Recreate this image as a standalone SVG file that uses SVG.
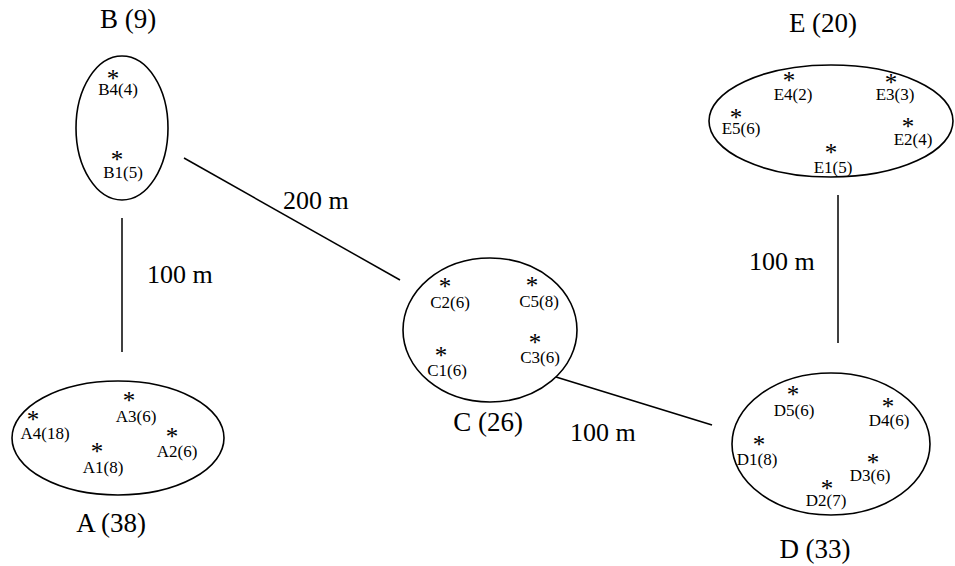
<svg xmlns="http://www.w3.org/2000/svg" width="955" height="566" viewBox="0 0 955 566">
  <style>
    text { font-family: "Liberation Serif", "Times New Roman", serif; fill: #000; }
    .ring { fill: none; stroke: #000; stroke-width: 1.6; }
    .link { stroke: #000; stroke-width: 1.5; fill: none; }
    .title { font-size: 27px; text-anchor: middle; }
    .dist { font-size: 26px; }
    .pt { font-size: 17px; text-anchor: middle; }
    .star { font-size: 25px; text-anchor: middle; }
  </style>
  <rect width="955" height="566" fill="#fff"/>

  <g id="connectors">
    <line class="link" x1="122" y1="218" x2="122" y2="352"/>
    <line class="link" x1="184" y1="158" x2="400" y2="280"/>
    <line class="link" x1="556" y1="377" x2="712" y2="425"/>
    <line class="link" x1="838" y1="195" x2="838" y2="343"/>
    <text class="dist" x="147" y="283">100 m</text>
    <text class="dist" x="283" y="209">200 m</text>
    <text class="dist" x="570" y="441">100 m</text>
    <text class="dist" x="749" y="270">100 m</text>
  </g>

  <g id="B">
    <text class="title" x="128" y="28">B (9)</text>
    <ellipse class="ring" cx="122" cy="128" rx="46" ry="72"/>
    <text class="star" x="113" y="87">*</text>
    <text class="pt" x="118" y="95">B4(4)</text>
    <text class="star" x="117" y="168">*</text>
    <text class="pt" x="123" y="178">B1(5)</text>
  </g>

  <g id="A">
    <ellipse class="ring" cx="118" cy="438" rx="106" ry="57"/>
    <text class="title" x="111" y="532">A (38)</text>
    <text class="star" x="33" y="428">*</text>
    <text class="pt" x="45" y="439">A4(18)</text>
    <text class="star" x="129" y="409">*</text>
    <text class="pt" x="136" y="422">A3(6)</text>
    <text class="star" x="97" y="460">*</text>
    <text class="pt" x="103" y="473">A1(8)</text>
    <text class="star" x="172" y="445">*</text>
    <text class="pt" x="177" y="457">A2(6)</text>
  </g>

  <g id="C">
    <ellipse class="ring" cx="490" cy="330" rx="87" ry="72"/>
    <text class="title" x="488" y="431">C (26)</text>
    <text class="star" x="445" y="295">*</text>
    <text class="pt" x="450" y="308">C2(6)</text>
    <text class="star" x="532" y="294">*</text>
    <text class="pt" x="539" y="307">C5(8)</text>
    <text class="star" x="441" y="364">*</text>
    <text class="pt" x="447" y="376">C1(6)</text>
    <text class="star" x="535" y="351">*</text>
    <text class="pt" x="540" y="363">C3(6)</text>
  </g>

  <g id="D">
    <ellipse class="ring" cx="831" cy="444" rx="99" ry="71"/>
    <text class="title" x="815" y="558">D (33)</text>
    <text class="star" x="793" y="403">*</text>
    <text class="pt" x="794" y="416">D5(6)</text>
    <text class="star" x="888" y="415">*</text>
    <text class="pt" x="889" y="426">D4(6)</text>
    <text class="star" x="759" y="453">*</text>
    <text class="pt" x="757" y="465">D1(8)</text>
    <text class="star" x="873" y="471">*</text>
    <text class="pt" x="870" y="481">D3(6)</text>
    <text class="star" x="827" y="497">*</text>
    <text class="pt" x="826" y="506">D2(7)</text>
  </g>

  <g id="E">
    <text class="title" x="823" y="32">E (20)</text>
    <ellipse class="ring" cx="831" cy="121" rx="122" ry="56"/>
    <text class="star" x="789" y="89">*</text>
    <text class="pt" x="793" y="100">E4(2)</text>
    <text class="star" x="891" y="91">*</text>
    <text class="pt" x="895" y="100">E3(3)</text>
    <text class="star" x="736" y="126">*</text>
    <text class="pt" x="741" y="134">E5(6)</text>
    <text class="star" x="908" y="135">*</text>
    <text class="pt" x="913" y="145">E2(4)</text>
    <text class="star" x="831" y="161">*</text>
    <text class="pt" x="833" y="173">E1(5)</text>
  </g>
</svg>
